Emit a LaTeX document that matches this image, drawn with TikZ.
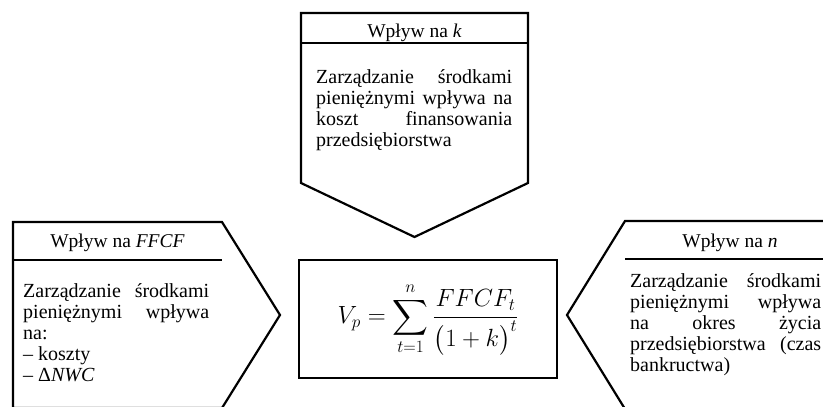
\documentclass[tikz,border=0pt]{standalone}
\usepackage{amsmath}
\usepackage{fontspec}
\setmainfont{Liberation Serif}
\begin{document}
\begin{tikzpicture}[x=1pt,y=-1pt,line join=miter]
\tikzset{
 outline/.style={draw,line width=2.2pt},
 divider/.style={draw,line width=1.6pt},
 headtxt/.style={anchor=base,inner sep=0pt,font=\fontsize{19.5}{21}\selectfont},
 bodytxt/.style={anchor=north west,inner sep=0pt,align=justify,font=\fontsize{20}{21}\selectfont},
}
\useasboundingbox (0,0) rectangle (823,407);
\clip (0,0) rectangle (823,407);
% top box (impact on k)
\coordinate (k1) at (301,13);
\coordinate (k2) at (528,13);
\coordinate (k3) at (528,183);
\coordinate (ktip) at (414.5,237);
\coordinate (k4) at (301,183);
\draw[outline] (k1)--(k2)--(k3)--(ktip)--(k4)--cycle;
\coordinate (kd1) at (301,43);
\coordinate (kd2) at (528,43);
\draw[divider] (kd1)--(kd2);
\node[headtxt] (kt) at (414.5,37) {Wpływ na \textit{k}};
\node[bodytxt,text width=196pt] (kb) at (316,69) {Zarządzanie środkami\linebreak pieniężnymi wpływa na\linebreak koszt finansowania\linebreak przedsiębiorstwa};
% left box (impact on FFCF)
\coordinate (f1) at (13,222);
\coordinate (f2) at (222,222);
\coordinate (ftip) at (280,315);
\coordinate (f3) at (222,408);
\coordinate (f4) at (13,408);
\draw[outline] (f1)--(f2)--(ftip)--(f3)--(f4)--cycle;
\coordinate (fd1) at (13,260);
\coordinate (fd2) at (222,260);
\draw[divider] (fd1)--(fd2);
\node[headtxt] (ft) at (117.5,247) {Wpływ na \textit{FFCF}};
\node[bodytxt,text width=186pt] (fb) at (23,283) {Zarządzanie środkami\linebreak pieniężnymi wpływa\linebreak na:\\– koszty\\– Δ\textit{NWC}};
% right box (impact on n)
\coordinate (n1) at (625,221);
\coordinate (n2) at (835,221);
\coordinate (n3) at (835,409);
\coordinate (n4) at (625,409);
\coordinate (ntip) at (567,315);
\draw[outline] (n1)--(n2)--(n3)--(n4)--(ntip)--cycle;
\coordinate (nd1) at (625,259);
\coordinate (nd2) at (835,259);
\draw[divider] (nd1)--(nd2);
\node[headtxt] (nt) at (730,247) {Wpływ na \textit{n}};
\node[bodytxt,text width=191pt] (nb) at (630,273) {Zarządzanie środkami\linebreak pieniężnymi wpływa\linebreak na okres życia\linebreak przedsiębiorstwa (czas\linebreak bankructwa)};
% centre formula
\node[draw,line width=1.8pt,minimum width=258pt,minimum height=118pt,inner sep=0pt,font=\fontsize{25}{30}\selectfont] (vp) at (428,319)
 {$\displaystyle V_p=\sum_{t=1}^{n}\frac{FFCF_t}{\bigl(1+k\bigr)^t}$};
\end{tikzpicture}
\end{document}
